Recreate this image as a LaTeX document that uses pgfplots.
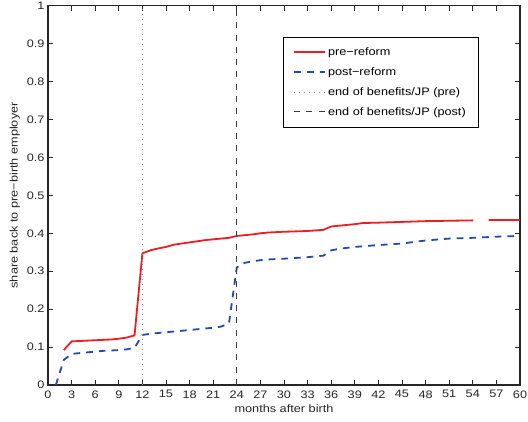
\documentclass[border=0pt]{standalone}
\usepackage{pgfplots}
\pgfplotsset{compat=1.18}
\usepackage{fontspec}
\setmainfont[FakeStretch=1.17]{Liberation Sans}
\definecolor{myred}{RGB}{235,30,35}
\definecolor{myblue}{RGB}{35,75,170}
\definecolor{axgray}{RGB}{38,38,38}
\definecolor{dotgray}{RGB}{140,140,140}
\definecolor{dashgray}{RGB}{60,60,60}
\tikzset{
  redline/.style={myred, line width=1.8bp, solid},
  blueline/.style={myblue, line width=1.8bp, dash pattern=on 6.7bp off 6bp},
  dotline/.style={dotgray, line width=0.8bp, dash pattern=on 1bp off 4bp},
  dashline/.style={dashgray, line width=0.9bp, dash pattern=on 6bp off 6.3bp},
}
\begin{document}
\begin{tikzpicture}[font=\fontsize{10.9}{13}\selectfont]
\begin{axis}[
  at={(0,0)}, anchor=south west,
  width=472bp, height=379.3bp, scale only axis,
  xmin=0, xmax=60, ymin=0, ymax=1,
  xtick={0,3,...,60},
  ytick={0,0.1,...,1.0},
  /pgf/number format/assume math mode=true,
  yticklabel style={/pgf/number format/fixed, /pgf/number format/precision=1, text=axgray},
  xticklabel style={yshift=-2bp, text=axgray},
  tick align=inside,
  major tick length=5bp,
  tick style={axgray, line width=0.8bp},
  axis line style={axgray, line width=1.1bp},
  xlabel={months after birth},
  ylabel={share back to pre−birth employer},
  label style={text=axgray},
  unbounded coords=jump,
  legend cell align=left,
  legend style={at={(0.498,0.9175)}, anchor=north west,
    fill=white, inner xsep=10bp, inner ysep=8.5bp, row sep=6.5bp,
    /tikz/every even column/.append style={column sep=6bp}},
]
\addplot[redline, legend image code/.code={\draw[redline] (0bp,0bp) -- (31bp,0bp);}] coordinates {
(2,0.092) (3,0.115) (4,0.116) (5,0.117) (6,0.118) (7,0.119) (8,0.120) (9,0.122) (10,0.125) (11,0.131)
(12,0.347) (13,0.355) (14,0.360) (15,0.364) (16,0.370) (17,0.373) (18,0.376) (19,0.379) (20,0.382)
(21,0.384) (22,0.386) (23,0.388) (24,0.393) (25,0.395) (26,0.397) (27,0.400) (28,0.402) (30,0.404)
(33,0.406) (35,0.409) (36,0.418) (37,0.420) (39,0.424) (40,0.427) (42,0.428) (45,0.430) (48,0.432)
(51,0.433) (54,0.434) (55,nan) (56,0.435) (60,0.435)
};
\addlegendentry{pre−reform}
\addplot[blueline, legend image code/.code={\draw[blueline] (0bp,0bp) -- (31bp,0bp);}] coordinates {
(1,0.0) (2,0.066) (3,0.082) (4,0.084) (5,0.086) (6,0.088) (7,0.090) (8,0.091) (9,0.092) (10,0.094)
(11,0.098) (12,0.132) (13,0.135) (14,0.137) (15,0.139) (16,0.141) (17,0.143) (18,0.145) (19,0.147)
(20,0.149) (21,0.151) (22,0.154) (23,0.162) (24,0.310) (25,0.322) (26,0.326) (27,0.329) (28,0.331)
(30,0.333) (33,0.337) (35,0.341) (36,0.355) (37,0.359) (39,0.364) (42,0.369) (45,0.373) (48,0.381)
(51,0.386) (54,0.388) (57,0.391) (60,0.393)
};
\addlegendentry{post−reform}
\addplot[dotline, legend image code/.code={\draw[dotline] (0bp,0bp) -- (31bp,0bp);}] coordinates {(12,0) (12,1)};
\addlegendentry{end of benefits/JP (pre)}
\addplot[dashline, legend image code/.code={\draw[dashline] (0bp,0bp) -- (31bp,0bp);}] coordinates {(24,0) (24,1)};
\addlegendentry{end of benefits/JP (post)}
\end{axis}
\pgfresetboundingbox
\path[use as bounding box] ([shift={(-48bp,-37bp)}]current axis.south west) rectangle ([shift={(8bp,5.7bp)}]current axis.north east);
\end{tikzpicture}
\end{document}
